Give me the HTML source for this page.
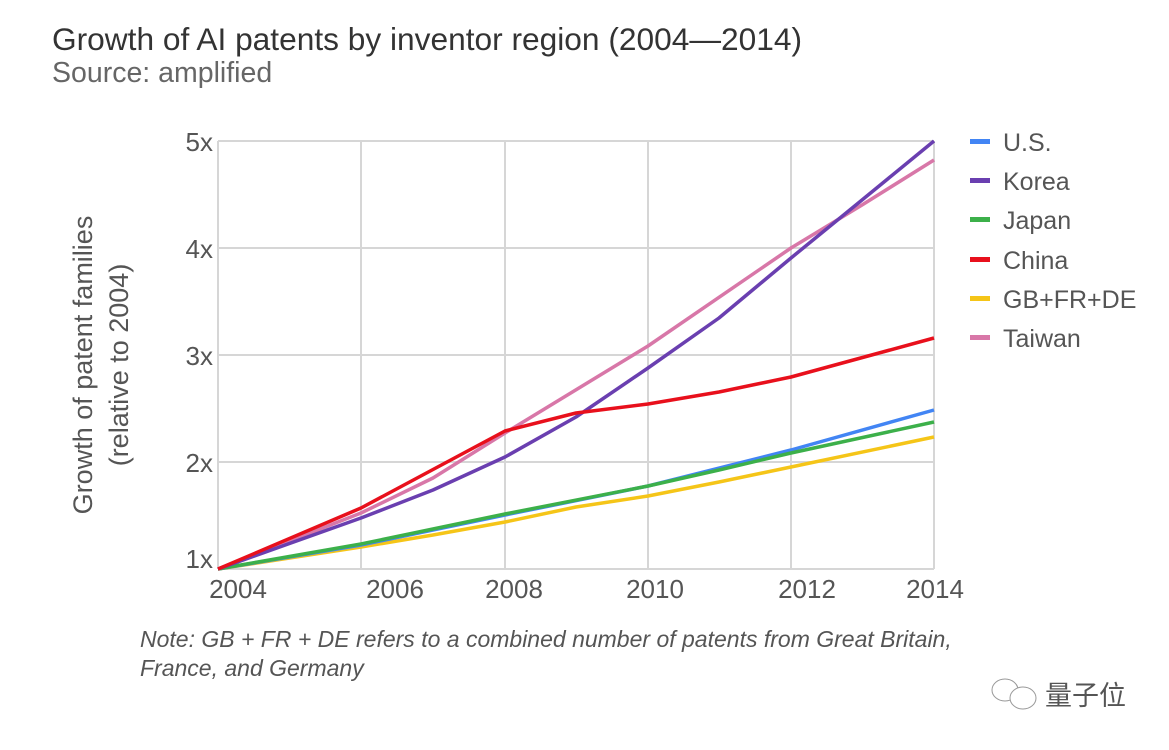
<!DOCTYPE html>
<html><head><meta charset="utf-8"><style>
body{margin:0;background:#fff;width:1169px;height:745px;overflow:hidden;font-family:"Liberation Sans",sans-serif}
</style></head><body>
<svg width="1169" height="745" xmlns="http://www.w3.org/2000/svg" font-family="Liberation Sans, sans-serif">
<text x="52" y="50" font-size="31.5" fill="#333" textLength="750" lengthAdjust="spacingAndGlyphs">Growth of AI patents by inventor region (2004—2014)</text>
<text x="52" y="82" font-size="28.5" fill="#666">Source: amplified</text>
<g stroke="#d6d6d6" stroke-width="2">
<line x1="218" y1="141" x2="934" y2="141"/><line x1="218" y1="248" x2="934" y2="248"/>
<line x1="218" y1="355" x2="934" y2="355"/><line x1="218" y1="462" x2="934" y2="462"/>
<line x1="218" y1="569" x2="934" y2="569"/>
<line x1="218" y1="141" x2="218" y2="569"/><line x1="361" y1="141" x2="361" y2="569"/>
<line x1="505" y1="141" x2="505" y2="569"/><line x1="648" y1="141" x2="648" y2="569"/>
<line x1="791" y1="141" x2="791" y2="569"/><line x1="934" y1="141" x2="934" y2="569"/>
</g>
<g font-size="26" fill="#555" text-anchor="end">
<text x="213" y="151">5x</text><text x="213" y="258">4x</text><text x="213" y="365">3x</text><text x="213" y="472">2x</text><text x="213" y="568">1x</text>
</g>
<g font-size="26" fill="#555" text-anchor="middle">
<text x="238" y="598">2004</text><text x="395" y="598">2006</text><text x="514" y="598">2008</text><text x="655" y="598">2010</text><text x="807" y="598">2012</text><text x="935" y="598">2014</text>
</g>
<text transform="translate(92,365) rotate(-90)" font-size="27" fill="#555" text-anchor="middle">Growth of patent families</text>
<text transform="translate(128,365) rotate(-90)" font-size="27" fill="#555" text-anchor="middle">(relative to 2004)</text>
<g fill="none" stroke-width="3.5" stroke-linejoin="round">
<polyline stroke="#f5c518" points="218,569 361,547 433,535 505,522 576,507 648,496 719,482 791,467 934,437"/>
<polyline stroke="#4285f4" points="218,569 361,545 505,515 648,486 791,450 934,410"/>
<polyline stroke="#3cb04a" points="218,569 361,544 505,514 648,486 719,470 791,453 934,422"/>
<polyline stroke="#d877a8" points="218,569 361,513 433,478 505,433 648,346 791,248 862,205 934,160"/>
<polyline stroke="#6a3fb0" points="218,569 361,518 433,490 505,457 576,417 648,368 719,318 791,258 862,200 934,141"/>
<polyline stroke="#e8101c" points="218,569 361,508 505,431 576,413 648,404 719,392 791,377 934,338"/>
</g>
<g font-size="25" fill="#555">
<rect x="970" y="139" width="20" height="5" fill="#4285f4"/><text x="1003" y="151">U.S.</text>
<rect x="970" y="178" width="20" height="5" fill="#6a3fb0"/><text x="1003" y="190">Korea</text>
<rect x="970" y="217" width="20" height="5" fill="#3cb04a"/><text x="1003" y="229">Japan</text>
<rect x="970" y="257" width="20" height="5" fill="#e8101c"/><text x="1003" y="269">China</text>
<rect x="970" y="296" width="20" height="5" fill="#f5c518"/><text x="1003" y="308">GB+FR+DE</text>
<rect x="970" y="335" width="20" height="5" fill="#d877a8"/><text x="1003" y="347">Taiwan</text>
</g>
<g font-size="23" fill="#555" font-style="italic">
<text x="140" y="647">Note: GB + FR + DE refers to a combined number of patents from Great Britain,</text>
<text x="140" y="676">France, and Germany</text>
</g>
<g fill="none" stroke="#999" stroke-width="1">
<ellipse cx="1005" cy="690" rx="13" ry="11"/><ellipse cx="1023" cy="698" rx="13" ry="11" fill="#fff"/>
</g>
<text x="1045" y="705" font-size="27" fill="#555" font-family="Liberation Sans, Noto Sans CJK SC, sans-serif">量子位</text>
</svg>
</body></html>
